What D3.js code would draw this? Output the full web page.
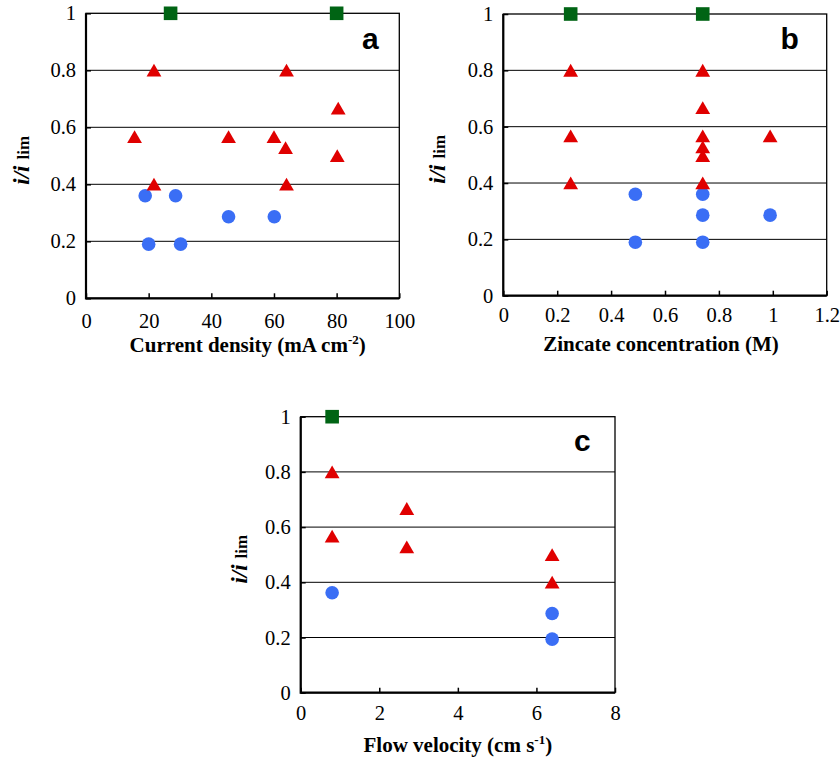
<!DOCTYPE html>
<html>
<head>
<meta charset="utf-8">
<script src="https://cdn.jsdelivr.net/npm/d3@7"></script>
<style>
  body { margin: 0; background: #fff; }
  svg { display: block; }
</style>
</head>
<body>
<svg id="chart" width="840" height="759"></svg>
<script>
// valeurs
const yTicks = [0, 0.2, 0.4, 0.6, 0.8, 1];
const gridValues = [0.2, 0.4, 0.6, 0.8];

const xTicksA = [0, 20, 40, 60, 80, 100];
const squaresA = [[27, 1], [80, 1]];
const trianglesA = [[21.7, 0.8], [64, 0.8], [80.5, 0.667], [15.5, 0.567], [45.5, 0.567],
                    [60, 0.567], [63.7, 0.528], [80.2, 0.5], [21.7, 0.4], [64, 0.4]];
const circlesA = [[18.9, 0.36], [28.6, 0.36], [45.5, 0.286], [60.1, 0.286], [20, 0.19], [30.2, 0.19]];

const xTicksB = [0, 0.2, 0.4, 0.6, 0.8, 1, 1.2];
const squaresB = [[0.25, 1], [0.74, 1]];
const trianglesB = [[0.25, 0.8], [0.25, 0.567], [0.25, 0.4], [0.74, 0.8], [0.74, 0.667],
                    [0.74, 0.567], [0.74, 0.528], [0.74, 0.497], [0.74, 0.4], [0.99, 0.567]];
const circlesB = [[0.49, 0.36], [0.49, 0.19], [0.74, 0.36], [0.74, 0.286], [0.74, 0.19], [0.99, 0.286]];

const xTicksC = [0, 2, 4, 6, 8];
const squaresC = [[0.8, 1]];
const trianglesC = [[0.8, 0.8], [0.8, 0.567], [2.7, 0.667], [2.7, 0.528], [6.4, 0.5], [6.4, 0.4]];
const circlesC = [[0.8, 0.362], [6.4, 0.287], [6.4, 0.194]];

const green = "#006414", red = "#e00000", blue = "#3a6ef5";
const fontSerif = "'Liberation Serif', 'Times New Roman', serif";
const fontSans = "'Liberation Sans', Arial, sans-serif";

const svg = d3.select("#chart");

function drawPanel(p) {
  var x = d3.scaleLinear().domain([0, p.xMax]).range([p.left, p.right]);
  var y = d3.scaleLinear().domain([0, 1]).range([p.bottom, p.top]);
  var g = svg.append("g");

  // lignes de grille
  g.selectAll(".grid")
    .data(gridValues)
    .enter()
    .append("line")
    .attr("x1", p.left).attr("x2", p.right)
    .attr("y1", d => y(d)).attr("y2", d => y(d))
    .attr("stroke", "#000").attr("stroke-width", 1);

  // axes
  var xa = g.append("g")
    .attr("transform", `translate(0, ${p.bottom})`)
    .call(d3.axisBottom(x).tickValues(p.xTicks).tickSize(-5)
      .tickPadding(p.xLabelOffset - 14.5).tickFormat(d3.format("~g")));
  var ya = g.append("g")
    .attr("transform", `translate(${p.left}, 0)`)
    .call(d3.axisLeft(y).tickValues(yTicks).tickSize(-5).tickPadding(10).tickFormat(d3.format("~g")));
  [xa, ya].forEach(function (a) {
    a.attr("font-family", null).attr("font-size", null);
    a.select(".domain").remove();
    a.selectAll("line").attr("stroke", "#000").attr("stroke-width", 1.5);
    a.selectAll("text")
      .style("font-family", fontSerif).style("font-size", "20.5px").attr("fill", "#000");
  });

  // cadre
  g.append("rect")
    .attr("x", p.left).attr("y", p.top)
    .attr("width", p.right - p.left).attr("height", p.bottom - p.top)
    .attr("fill", "none").attr("stroke", "#000").attr("stroke-width", 1.3);
  g.append("path")
    .attr("d", `M${p.left},${p.top}V${p.bottom}H${p.right}`)
    .attr("fill", "none").attr("stroke", "#000").attr("stroke-width", 2.2);

  // points
  g.selectAll(".circ").data(p.circles).enter().append("circle")
    .attr("cx", d => x(d[0])).attr("cy", d => y(d[1])).attr("r", 6.8)
    .attr("fill", blue);
  g.selectAll(".tri").data(p.triangles).enter().append("path")
    .attr("transform", d => `translate(${x(d[0])}, ${y(d[1])})`)
    .attr("d", "M0,-6.5L7.4,6.3L-7.4,6.3Z")
    .attr("fill", red);
  g.selectAll(".sq").data(p.squares).enter().append("rect")
    .attr("x", d => x(d[0]) - 6.8).attr("y", d => y(d[1]) - 6.8)
    .attr("width", 13.6).attr("height", 13.6)
    .attr("fill", green);

  // lettre du panneau
  g.append("text")
    .attr("x", p.letterX).attr("y", p.letterY)
    .style("font-family", fontSans).style("font-weight", "bold").style("font-size", "30px")
    .text(p.letter);

  // titre de l'axe x
  var xt = g.append("text")
    .attr("x", (p.left + p.right) / 2 + p.xTitleShift).attr("y", p.xTitleY)
    .attr("text-anchor", "middle")
    .style("font-family", fontSerif).style("font-weight", "bold").style("font-size", "21px");
  xt.append("tspan").text(p.xTitle);
  if (p.xSup) {
    xt.append("tspan").attr("dy", -8).style("font-size", "13px").text(p.xSup);
    xt.append("tspan").attr("dy", 8).text(")");
  }

  // titre de l'axe y
  var yt = g.append("text")
    .attr("transform", `translate(${p.yTitleX}, ${(p.top + p.bottom) / 2 + 4.5}) rotate(-90)`)
    .attr("text-anchor", "middle")
    .style("font-family", fontSerif).style("font-weight", "bold");
  yt.append("tspan").style("font-style", "italic").style("font-size", "23px").text("i/i");
  yt.append("tspan").style("font-size", "17px").attr("dx", 6).text("lim");
}

drawPanel({
  left: 86, right: 399.3, top: 13.3, bottom: 298.3, xMax: 100, xTicks: xTicksA,
  xLabelOffset: 30, squares: squaresA, triangles: trianglesA, circles: circlesA,
  letter: "a", letterX: 362, letterY: 49,
  xTitle: "Current density (mA cm", xSup: "-2", xTitleY: 351.5, xTitleShift: 5,
  yTitleX: 28.5
});
drawPanel({
  left: 503.3, right: 826.7, top: 14, bottom: 295.7, xMax: 1.2, xTicks: xTicksB,
  xLabelOffset: 26.5, squares: squaresB, triangles: trianglesB, circles: circlesB,
  letter: "b", letterX: 780.5, letterY: 49,
  xTitle: "Zincate concentration (M)", xSup: null, xTitleY: 350.5, xTitleShift: -4,
  yTitleX: 445
});
drawPanel({
  left: 300.7, right: 615, top: 416.7, bottom: 692.7, xMax: 8, xTicks: xTicksC,
  xLabelOffset: 27.5, squares: squaresC, triangles: trianglesC, circles: circlesC,
  letter: "c", letterX: 574, letterY: 451,
  xTitle: "Flow velocity (cm s", xSup: "-1", xTitleY: 751.5, xTitleShift: 0,
  yTitleX: 247
});
</script>
</body>
</html>
